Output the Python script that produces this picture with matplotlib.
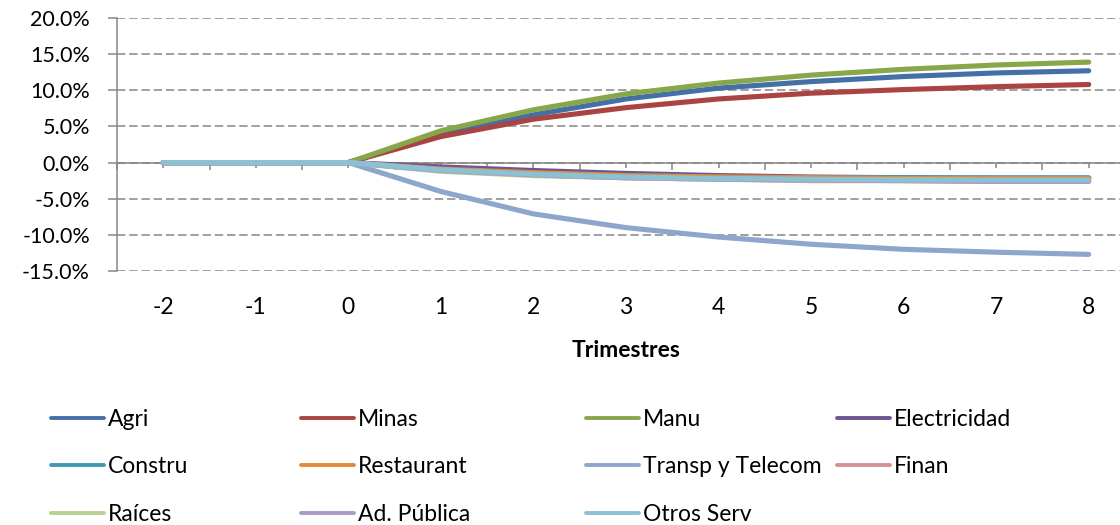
import matplotlib
matplotlib.use("Agg")
import matplotlib.pyplot as plt
from matplotlib.lines import Line2D
from matplotlib.ticker import FuncFormatter, MultipleLocator

plt.rcParams['font.family'] = ['Lato', 'DejaVu Sans']
plt.rcParams['axes.unicode_minus'] = False

trimestres = [-2, -1, 0, 1, 2, 3, 4, 5, 6, 7, 8]

# impulse responses, in percent
agri = [0, 0, 0, 4.0, 6.6, 8.8, 10.3, 11.2, 11.9, 12.4, 12.7]
minas = [0, 0, 0, 3.6, 6.0, 7.6, 8.8, 9.6, 10.1, 10.5, 10.8]
manu = [0, 0, 0, 4.4, 7.3, 9.5, 11.0, 12.1, 12.9, 13.5, 13.9]
electricidad = [0, 0, 0, -0.6, -1.1, -1.5, -1.8, -2.0, -2.1, -2.2, -2.2]
constru = [0, 0, 0, -1.0, -1.5, -1.8, -2.0, -2.1, -2.1, -2.1, -2.1]
restaurant = [0, 0, 0, -0.9, -1.4, -1.8, -2.0, -2.1, -2.2, -2.2, -2.2]
transp = [0, 0, 0, -4.0, -7.1, -9.0, -10.3, -11.3, -12.0, -12.4, -12.7]
finan = [0, 0, 0, -1.1, -1.7, -2.1, -2.3, -2.5, -2.5, -2.6, -2.6]
raices = [0, 0, 0, -1.2, -1.8, -2.1, -2.3, -2.4, -2.4, -2.5, -2.5]
ad_publica = [0, 0, 0, -1.1, -1.7, -2.1, -2.3, -2.4, -2.5, -2.6, -2.6]
otros_serv = [0, 0, 0, -1.0, -1.6, -2.0, -2.2, -2.3, -2.4, -2.4, -2.4]

series = [
    ("Agri", agri, "#4470a8"),
    ("Minas", minas, "#aa4442"),
    ("Manu", manu, "#88a74a"),
    ("Electricidad", electricidad, "#6e5692"),
    ("Constru", constru, "#3e9ab2"),
    ("Restaurant", restaurant, "#e08a3c"),
    ("Transp y Telecom", transp, "#8ea6cc"),
    ("Finan", finan, "#d59190"),
    ("Raíces", raices, "#b9d190"),
    ("Ad. Pública", ad_publica, "#a99bc4"),
    ("Otros Serv", otros_serv, "#8bc1d4"),
]

grey = "#868686"
fs = 16.5
fig = plt.figure(figsize=(11.2, 5.25), dpi=100)
ax = fig.add_axes([117 / 1120, 1 - 271 / 525, 1018 / 1120, 253 / 525])

for name, vals, col in series:
    ax.plot(trimestres, vals, color=col, lw=3.7, solid_capstyle='round',
            solid_joinstyle='round', label=name)

ax.set_xlim(-2.5, 8.5)
ax.set_ylim(-15, 20)
ax.yaxis.set_major_locator(MultipleLocator(5))
ax.yaxis.set_major_formatter(FuncFormatter(lambda v, p: "%.1f%%" % v))
ax.grid(axis='y', color=grey, lw=1.1, linestyle=(0, (5.5, 2.5)))
ax.set_axisbelow(True)

for s in ['top', 'right']:
    ax.spines[s].set_visible(False)
ax.spines['left'].set_color(grey)
ax.spines['left'].set_linewidth(1.1)
ax.spines['bottom'].set_position(('data', 0))
ax.spines['bottom'].set_color(grey)
ax.spines['bottom'].set_linewidth(1.1)
ax.spines['bottom'].set_zorder(1)

ax.set_xticks(trimestres)
ax.set_xticks([t + 0.5 for t in trimestres[:-1]] + [-2.5], minor=True)
ax.tick_params(axis='x', which='major', length=3.6, width=1.1, color=grey,
               pad=93.5, labelsize=fs)
ax.tick_params(axis='x', which='minor', length=5, width=1.1, color=grey)
ax.tick_params(axis='y', length=6.5, width=1.1, color=grey, labelsize=15.5, pad=13)
ax.set_xlabel("Trimestres", fontsize=fs, fontweight='bold', labelpad=15.5)

handles = ax.get_lines()
col_x = [51, 301, 586, 837]
for c in range(4):
    hs = [handles[i] for i in range(c, len(handles), 4)]
    proxies = [Line2D([], [], color=h.get_color(), lw=2.8, solid_capstyle='round')
               for h in hs]
    fig.legend(proxies, [h.get_label() for h in hs], loc='upper left',
               bbox_to_anchor=(col_x[c] / 1120, 1 - 409 / 525), frameon=False,
               fontsize=fs, handlelength=2.3, handletextpad=0.2,
               labelspacing=1.15, borderpad=0, borderaxespad=0)

fig.savefig("out.png", dpi=100)
